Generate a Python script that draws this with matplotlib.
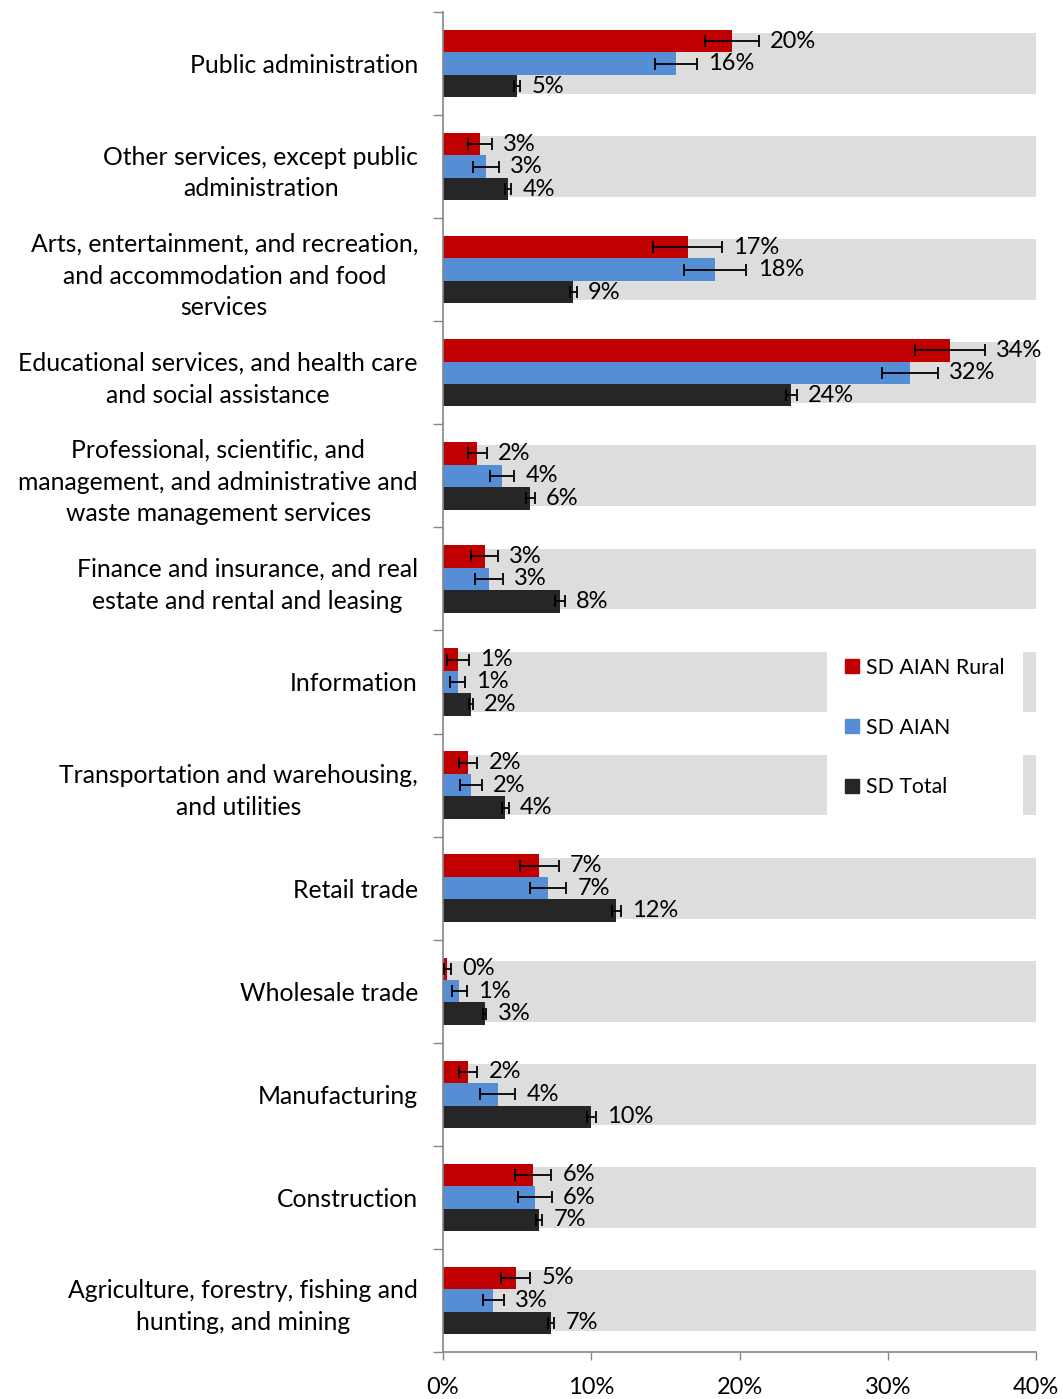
import numpy as np
import matplotlib.pyplot as plt
from matplotlib.patches import Patch

plt.rcParams['font.family'] = ['Lato', 'DejaVu Sans']

# Industry categories, top to bottom
categories = [
    "Public administration",
    "Other services, except public\nadministration",
    "Arts, entertainment, and recreation,\nand accommodation and food\nservices",
    "Educational services, and health care\nand social assistance",
    "Professional, scientific, and\nmanagement, and administrative and\nwaste management services",
    "Finance and insurance, and real\nestate and rental and leasing",
    "Information",
    "Transportation and warehousing,\nand utilities",
    "Retail trade",
    "Wholesale trade",
    "Manufacturing",
    "Construction",
    "Agriculture, forestry, fishing and\nhunting, and mining",
]

# Share of employed (%) and margin of error
rural = [19.5, 2.5, 16.5, 34.2, 2.3, 2.8, 1.0, 1.7, 6.5, 0.3, 1.7, 6.1, 4.9]
rural_err = [1.8, 0.79, 2.31, 2.37, 0.64, 0.93, 0.73, 0.62, 1.3, 0.22, 0.62, 1.21, 0.99]
aian = [15.7, 2.9, 18.35, 31.5, 4.0, 3.1, 1.0, 1.9, 7.1, 1.1, 3.7, 6.2, 3.4]
aian_err = [1.42, 0.88, 2.12, 1.9, 0.8, 0.92, 0.5, 0.72, 1.23, 0.5, 1.18, 1.13, 0.7]
total = [5.0, 4.4, 8.8, 23.5, 5.9, 7.9, 1.9, 4.2, 11.7, 2.8, 10.0, 6.5, 7.3]
total_err = [0.22, 0.2, 0.22, 0.39, 0.31, 0.33, 0.12, 0.22, 0.33, 0.13, 0.31, 0.2, 0.21]
background = [40] * len(categories)

series_names = ["SD AIAN Rural", "SD AIAN", "SD Total"]
colors = ["#C00000", "#558ED5", "#262626"]

fig = plt.figure(figsize=(10.63, 13.99), dpi=100)
ax = fig.add_axes([443 / 1063, 47 / 1399, 593 / 1063, 1340 / 1399])

y = np.arange(len(categories))
bar_h = 0.218
fs = 17

ax.barh(y, background, height=0.59, color="#DDDDDD", zorder=1)

offsets = [-bar_h, 0, bar_h]
for off, vals, errs, col in zip(offsets, [rural, aian, total],
                                [rural_err, aian_err, total_err], colors):
    ax.barh(y + off, vals, height=bar_h, color=col, zorder=2)
    ax.errorbar(vals, y + off, xerr=errs, fmt="none", ecolor="black",
                elinewidth=1.3, capsize=4.3, capthick=1.3, zorder=3)
    for yi, v, e in zip(y, vals, errs):
        ax.text(v + e + 0.75, yi + off, f"{int(np.floor(v + 0.5))}%",
                va="center", ha="left", fontsize=fs, zorder=4)

ax.set_xlim(0, 40)
ax.set_ylim(len(categories) - 0.5, -0.5)
ax.set_xticks([0, 10, 20, 30, 40])
ax.set_xticklabels(["0%", "10%", "20%", "30%", "40%"], fontsize=fs)
ax.set_yticks(y)
ax.set_yticklabels(categories, fontsize=17.8, multialignment="center",
                   linespacing=1.46)
ax.set_yticks(np.arange(len(categories) + 1) - 0.5, minor=True)
ax.tick_params(axis="y", which="major", length=0, pad=18)
ax.tick_params(axis="y", which="minor", length=7, color="#868686", width=1)
ax.tick_params(axis="x", length=6, color="#868686", width=1, pad=12)

for side in ["top", "right"]:
    ax.spines[side].set_visible(False)
for side in ["left", "bottom"]:
    ax.spines[side].set_color("#868686")
    ax.spines[side].set_linewidth(1.2)

handles = [Patch(color=c) for c in colors]
ax.legend(handles, series_names, loc="upper left", bbox_to_anchor=(0.647, 0.532),
          borderaxespad=0, frameon=True, facecolor="white", edgecolor="none",
          framealpha=1, fancybox=False, fontsize=15.3, handlelength=0.65,
          handleheight=0.65, handletextpad=0.3, labelspacing=1.87, borderpad=0.88)

fig.savefig("out.png", dpi=100)
